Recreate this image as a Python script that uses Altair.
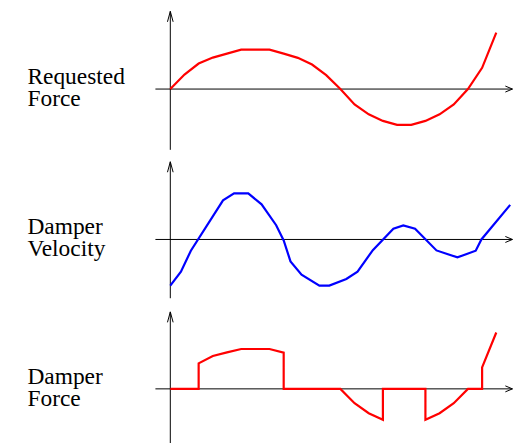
import altair as alt
import pandas as pd

# ---- data (time in sample steps, value in arbitrary units) ----
req_t = [0, 1, 2, 3, 4, 5, 6, 7, 8, 9, 10, 11, 12, 13, 14, 15, 16, 17, 18, 19, 20, 21, 22, 23]
req_force = [0, 14.6, 25.6, 31.6, 35.6, 39.6, 39.6, 39.6, 35.6, 31.3, 24.6, 14, 0,
             -15.4, -25.4, -32, -36, -36, -32, -25.4, -15.4, 0, 21.3, 56.6]

vel_t = [0, 0.75, 1.45, 3.72, 4.5, 5.5, 6.44, 7.47, 8.0, 8.48, 9.26, 10.52, 11.22,
         12.42, 13.21, 14.29, 15.74, 16.44, 17.27, 18.78, 20.26, 21.55, 21.95, 23.98]
vel = [-46.3, -32.3, -11.3, 39.3, 46.3, 46.3, 35.3, 14.3, -1, -22, -35.3, -46.3, -46.3,
       -39.7, -32.3, -10.7, 10.7, 14, 10.7, -11, -18, -11.3, 0, 34.7]

dmp_t = [0, 2, 2, 3, 4, 5, 7, 8, 8, 12, 13, 14, 15, 15, 18, 18, 19, 20, 21, 22, 22, 23]
dmp_force = [0, 0, 25.6, 33, 36.6, 40, 40, 36.3, 0, 0, -14.4, -24.4, -31, 0, 0,
             -31, -24.4, -14.4, 0, 0, 21.6, 56.6]

labels = [["Requested", "Force"], ["Damper", "Velocity"], ["Damper", "Force"]]
colors = ["#ff0000", "#0000ff", "#ff0000"]

# axis lines and arrowheads (data units)
x_axis_start = -1.05
x_axis_tip = 24.14
y_axis_tip = [78, 78, 77.3]
y_axis_bottom = [-61, -59, -61]
up_arm_dx = 0.2     # half width of the vertical arrowhead
up_arm_dy = 10.5    # length of the vertical arrowhead
right_arm_dx = 0.5  # length of the horizontal arrowhead
right_arm_dy = 3    # half width of the horizontal arrowhead

X_DOMAIN = [-1.05, 24.18]
Y_DOMAIN = [-61.5, 78.5]

curves = [
    pd.DataFrame({"t": req_t, "v": req_force, "i": list(range(len(req_t)))}),
    pd.DataFrame({"t": vel_t, "v": vel, "i": list(range(len(vel_t)))}),
    pd.DataFrame({"t": dmp_t, "v": dmp_force, "i": list(range(len(dmp_t)))}),
]


def panel(i):
    xs = alt.Scale(domain=X_DOMAIN, nice=False, zero=False)
    ys = alt.Scale(domain=Y_DOMAIN, nice=False, zero=False)
    tip = y_axis_tip[i]
    segs = pd.DataFrame({
        "t": [x_axis_start, 0, 0, 0, x_axis_tip, x_axis_tip],
        "t2": [x_axis_tip, 0, -up_arm_dx, up_arm_dx, x_axis_tip - right_arm_dx, x_axis_tip - right_arm_dx],
        "v": [0, y_axis_bottom[i], tip, tip, 0, 0],
        "v2": [0, tip, tip - up_arm_dy, tip - up_arm_dy, right_arm_dy, -right_arm_dy],
    })
    axes = alt.Chart(segs).mark_rule(color="black", strokeWidth=1).encode(x2="t2:Q", y2="v2:Q")
    curve = alt.Chart(curves[i]).mark_line(color=colors[i], strokeWidth=2.2).encode(order="i:Q")
    return alt.layer(axes, curve).encode(
        x=alt.X("t:Q", scale=xs, axis=None),
        y=alt.Y("v:Q", scale=ys, axis=alt.Axis(
            title=labels[i], domain=False, ticks=False, labels=False, grid=False,
            titleAngle=0, titleAlign="left", titleBaseline="alphabetic",
            titleX=-129, titleY=73, titleFont="Liberation Serif", titleFontSize=23.5,
            titleFontWeight="normal", titleLineHeight=22, titleColor="black", titlePadding=0)),
    ).properties(width=359, height=140)


chart = alt.vconcat(panel(0), panel(1), panel(2), spacing=10).properties(
    padding={"left": 19, "top": 1, "right": 0, "bottom": 0},
    background="white",
).configure_view(stroke=None)

chart.save("out.html", embed_options={"renderer": "svg", "actions": False})
